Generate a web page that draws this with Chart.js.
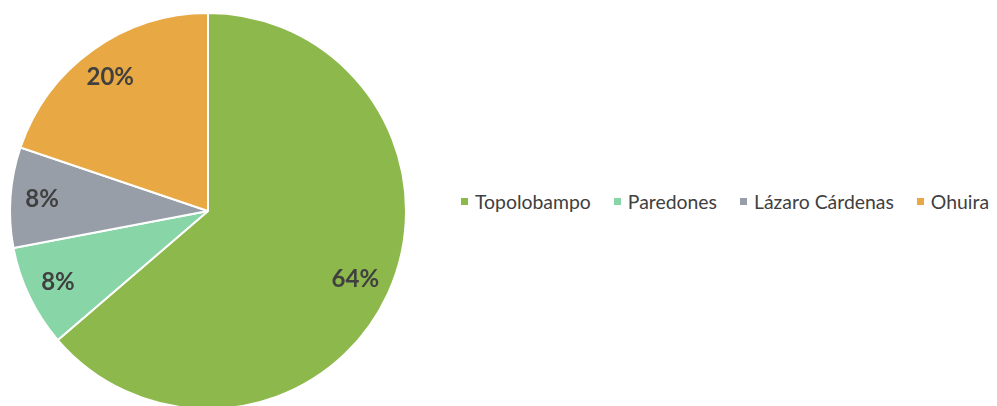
<!DOCTYPE html>
<html>
<head>
<meta charset="utf-8">
<script src="https://cdn.jsdelivr.net/npm/chart.js@4"></script>
<style>
	html, body { margin: 0; padding: 0; background: #fff; }
	body { width: 997px; height: 406px; overflow: hidden; position: relative; font-family: Lato, "Open Sans", sans-serif; }
	#pie-wrap { position: absolute; left: 0; top: 0; width: 416px; height: 422px; }
	#legend { position: absolute; left: 461px; top: 190px; display: flex; align-items: center; font-size: 19.4px; color: #404040; white-space: nowrap; }
	#legend .item { display: flex; align-items: center; margin-right: 23px; }
	#legend .box { width: 7px; height: 7px; margin-right: 7px; }
</style>
</head>
<body>
<div id="pie-wrap"><canvas id="chart-pie"></canvas></div>
<div id="legend"></div>
<script>
	// data
	const categories = ['Topolobampo', 'Paredones', 'Lázaro Cárdenas', 'Ohuira'];
	const values = [63.7, 8.3, 8.2, 19.8];
	const pctLabels = ['64%', '8%', '8%', '20%'];
	const colors = ['#8db84b', '#88d5a8', '#979ea8', '#e8a843'];

	// labels inside slices
	const sliceLabels = {
		id: 'sliceLabels',
		afterDatasetsDraw(chart) {
			const ctx = chart.ctx;
			const meta = chart.getDatasetMeta(0);
			ctx.save();
			ctx.font = 'bold 24px Lato, sans-serif';
			ctx.fillStyle = '#404040';
			ctx.textAlign = 'center';
			ctx.textBaseline = 'middle';
			meta.data.forEach(function(arc, i) {
				const mid = (arc.startAngle + arc.endAngle) / 2;
				const r = arc.outerRadius * 0.83;
				ctx.fillText(pctLabels[i], arc.x + Math.cos(mid) * r - 2, arc.y + Math.sin(mid) * r);
			});
			ctx.restore();
		}
	};

	var configPie = {
		type: 'pie',
		data: {
			labels: categories,
			datasets: [{
				data: values,
				backgroundColor: colors,
				borderColor: '#ffffff',
				borderWidth: 2
			}]
		},
		options: {
			responsive: true,
			maintainAspectRatio: false,
			animation: false,
			layout: {
				padding: { left: 9, top: 12, right: 9, bottom: 12 }
			},
			plugins: {
				legend: { display: false },
				tooltip: { enabled: false }
			}
		},
		plugins: [sliceLabels]
	};

	var ctx = document.getElementById('chart-pie').getContext('2d');
	var chartPie = new Chart(ctx, configPie);

	// legend row
	var legend = document.getElementById('legend');
	categories.forEach(function(name, i) {
		var item = document.createElement('span');
		item.className = 'item';
		var box = document.createElement('span');
		box.className = 'box';
		box.style.background = colors[i];
		var txt = document.createElement('span');
		txt.textContent = name;
		item.appendChild(box);
		item.appendChild(txt);
		legend.appendChild(item);
	});
</script>
</body>
</html>
